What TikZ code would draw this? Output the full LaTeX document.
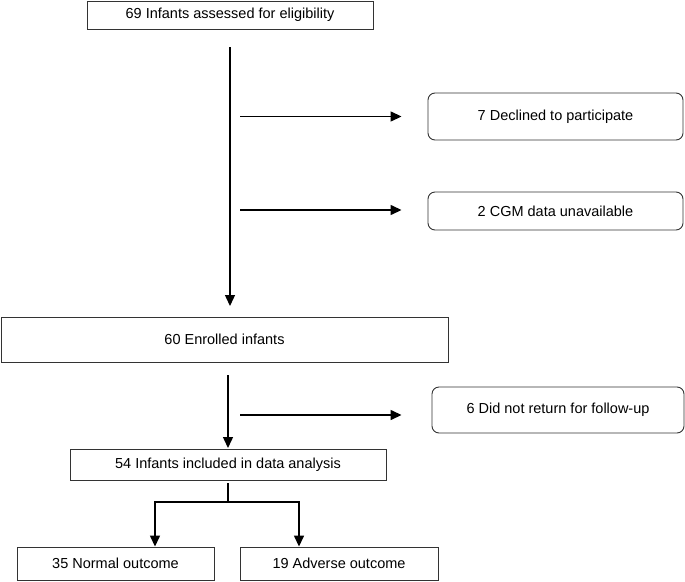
\documentclass[tikz,border=0pt]{standalone}
\usepackage{fontspec}
\setmainfont{Liberation Sans}
\usetikzlibrary{arrows.meta}
\begin{document}
\begin{tikzpicture}[x=1pt,y=-1pt,
  sqbox/.style={draw=black!80,line width=0.9pt,rectangle,inner sep=0pt,font=\fontsize{14.5}{16}\selectfont},
  rdbox/.style={sqbox,rounded corners=7pt},
  arr/.style={line width=1.4pt,-{Triangle[length=11pt,width=10pt]}},
  ln/.style={line width=1.4pt}]
\useasboundingbox (0,0) rectangle (685,581);
\node[sqbox,minimum width=286pt,minimum height=28pt] (top) at (230,15) {69 Infants assessed for eligibility};
\node[rdbox,minimum width=255pt,minimum height=47pt] (dec) at (555.5,116.5) {7 Declined to participate};
\node[rdbox,minimum width=255pt,minimum height=38pt] (cgm) at (555.5,211) {2 CGM data unavailable};
\node[sqbox,minimum width=447pt,minimum height=45pt] (enr) at (224.5,339.5) {60 Enrolled infants};
\node[rdbox,minimum width=252pt,minimum height=46pt] (dnr) at (558,410) {6 Did not return for follow-up};
\node[sqbox,minimum width=316pt,minimum height=31pt] (inc) at (228,464.5) {54 Infants included in data analysis};
\node[sqbox,minimum width=197pt,minimum height=33pt] (nor) at (115.5,563.5) {35 Normal outcome};
\node[sqbox,minimum width=198pt,minimum height=33pt] (adv) at (339,563.5) {19 Adverse outcome};
\coordinate (m1) at (230,47);
\coordinate (m2) at (230,306);
\coordinate (h1) at (240,116.5);
\coordinate (h2) at (240,210);
\coordinate (e1) at (228,375);
\coordinate (e2) at (228,448);
\coordinate (h3) at (240,415);
\coordinate (t1) at (228,483);
\coordinate (t2) at (228,502);
\draw[arr] (m1) -- (m2);
\draw[arr] (h1) -- ([xshift=-26pt]dec.west|-h1);
\draw[arr] (h2) -- ([xshift=-26pt]cgm.west|-h2);
\draw[arr] (e1) -- (e2);
\draw[arr] (h3) -- ([xshift=-30pt]dnr.west|-h3);
\draw[ln] (t1) -- (t2);
\draw[arr] (t2) -| ([xshift=155pt]0,0 |- nor.north) ;
\draw[arr] (t2) -| ([xshift=299pt]0,0 |- adv.north);
\end{tikzpicture}
\end{document}
